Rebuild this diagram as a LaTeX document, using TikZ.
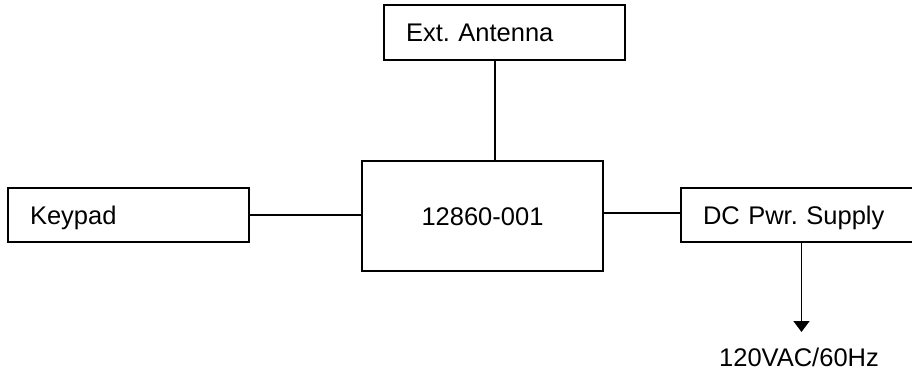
\documentclass[tikz,border=0pt]{standalone}
\usepackage{fontspec}
\setmainfont{Liberation Sans}
\usetikzlibrary{arrows.meta}
\frenchspacing
\tikzset{
  blk/.style={draw, line width=1.8pt, rectangle, minimum width=241pt, inner xsep=22pt,
    text width=197pt, align=left, text height=18.3pt, text depth=0pt,
    font=\fontsize{25.5}{30}\selectfont},
  cblk/.style={blk, align=center, minimum height=110pt},
  wire/.style={line width=1.8pt},
  lbl/.style={font=\fontsize{25.5}{30}\selectfont, text height=18.3pt, text depth=0pt, inner sep=0pt}
}
\begin{document}
\frenchspacing
\begin{tikzpicture}[x=1pt,y=-1pt]
\useasboundingbox (0,0) rectangle (912,375);
\clip (0,0) rectangle (912,375);
\node[blk, minimum height=55pt] (ant) at (504.5,32.5) {Ext. Antenna};
\node[cblk] (main) at (482.5,216) {12860-001};
\node[blk, minimum height=54pt] (key) at (128.5,215) {Keypad};
\node[blk, minimum height=54pt] (dc) at (801.5,215) {DC Pwr. Supply};
\coordinate (tip) at (801.5,332);
\node[lbl] (pwr) at (799,357) {120VAC/60Hz};
\draw[wire] ([xshift=-9.5pt]ant.south) -- ([xshift=-9.5pt]ant.south |- main.north);
\draw[wire] (key.east) -- (key.east -| main.west);
\draw[wire] ([yshift=2pt]dc.west) -- ([yshift=2pt]dc.west -| main.east);
\draw[wire, -{Triangle[width=16pt,length=11pt]}] (dc.south) -- (tip);
\end{tikzpicture}
\end{document}
